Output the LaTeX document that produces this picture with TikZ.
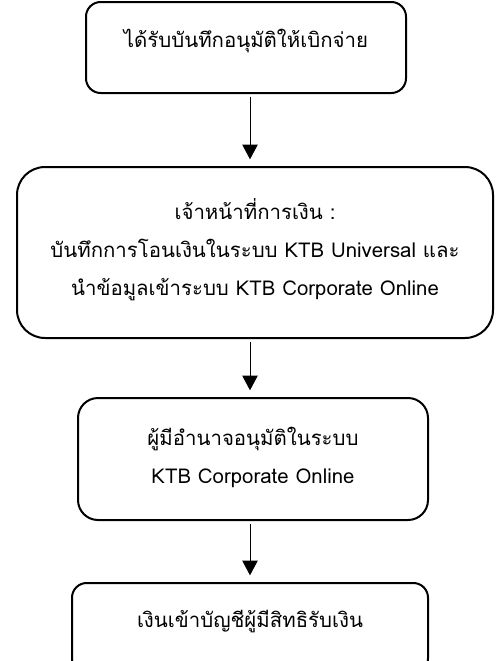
\documentclass[tikz,border=0pt]{standalone}
\usepackage{fontspec}
\setmainfont[Script=Thai]{Loma}
\usetikzlibrary{arrows.meta}

\begin{document}
\begin{tikzpicture}[x=0.75pt,y=-0.75pt,
	stepbox/.style={draw,line width=1.5pt,minimum width=#1},
	steptext/.style={align=center,anchor=base,font=\fontsize{15.3pt}{28.5pt}\selectfont},
	flow/.style={-{Triangle[width=11.5pt,length=11pt]},line width=0.75pt,shorten <=2pt,shorten >=5pt}]
	\useasboundingbox (0,0) rectangle (502,661);
	\clip (0,0) rectangle (502,661);
	\coordinate (axis) at (250,0);
	\node[stepbox=240pt,minimum height=68.25pt,rounded corners=11pt] (b1) at (246,47.5) {};
	\node[stepbox=357pt,minimum height=128.25pt,rounded corners=21pt] (b2) at (255,252.5) {};
	\node[stepbox=262.5pt,minimum height=91.5pt,rounded corners=15pt] (b3) at (253,459) {};
	\node[stepbox=267pt,minimum height=67.5pt,rounded corners=11pt] (b4) at (250,628) {};
	\node[steptext] (t1) at (246,47) {ได้รับบันทึกอนุมัติให้เบิกจ่าย};
	\node[steptext] (t2) at (255,295) {เจ้าหน้าที่การเงิน :\\บันทึกการโอนเงินในระบบ KTB Universal และ\\นำข้อมูลเข้าระบบ KTB Corporate Online};
	\node[steptext] (t3) at (253,483) {ผู้มีอำนาจอนุมัติในระบบ\\KTB Corporate Online};
	\node[steptext] (t4) at (250,627) {เงินเข้าบัญชีผู้มีสิทธิรับเงิน};
	\draw[flow] (b1.south -| axis) -- (b2.north -| axis);
	\draw[flow] (b2.south -| axis) -- (b3.north -| axis);
	\draw[flow] (b3.south -| axis) -- (b4.north -| axis);
\end{tikzpicture}
\end{document}
